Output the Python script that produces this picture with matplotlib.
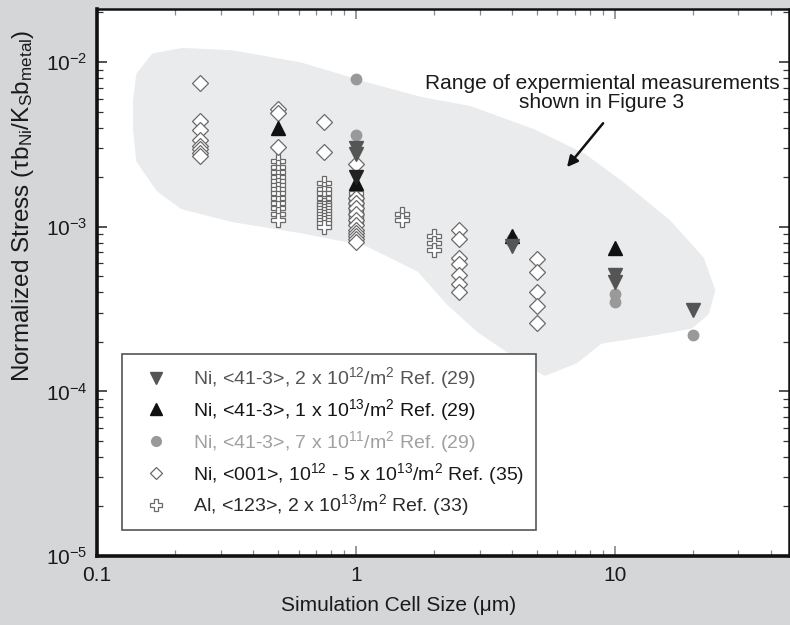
import numpy as np
import matplotlib
matplotlib.use('Agg')
import matplotlib.pyplot as plt
from matplotlib.lines import Line2D

plt.rcParams['font.family'] = ['Liberation Sans', 'DejaVu Sans']
plt.rcParams['mathtext.fontset'] = 'custom'
plt.rcParams['mathtext.rm'] = 'Liberation Sans'
plt.rcParams['mathtext.it'] = 'Liberation Sans:italic'
plt.rcParams['mathtext.default'] = 'regular'

# Ni <41-3>, 2e12/m2 (down triangles)
ni_2e12_x = [1, 1, 4, 10, 10, 20]
ni_2e12_y = [3.0e-3, 2.75e-3, 7.6e-4, 5.1e-4, 4.6e-4, 3.1e-4]
ni_2e12_x2 = [1]
ni_2e12_y2 = [2.0e-3]

# Ni <41-3>, 1e13/m2 (up triangles)
ni_1e13_x = [0.5, 1, 4, 10]
ni_1e13_y = [4.0e-3, 1.85e-3, 8.8e-4, 7.4e-4]

# Ni <41-3>, 7e11/m2 (circles)
ni_7e11_x = [1, 1, 4, 4, 10, 10, 20]
ni_7e11_y = [7.9e-3, 3.6e-3, 8.4e-4, 8.1e-4, 3.9e-4, 3.5e-4, 2.2e-4]

# Ni <001> (open diamonds)
ni_001_x = [0.25] * 8 + [0.5] * 3 + [0.75] * 2 + [1] * 12 + [2.5] * 7 + [5] * 5
ni_001_y = [7.5e-3, 4.4e-3, 3.85e-3, 3.35e-3, 3.1e-3, 2.95e-3, 2.82e-3, 2.7e-3,
            5.2e-3, 4.9e-3, 3.05e-3,
            4.3e-3, 2.85e-3,
            2.4e-3, 1.5e-3, 1.4e-3, 1.3e-3, 1.2e-3, 1.1e-3, 1.02e-3, 9.6e-4,
            9.2e-4, 8.8e-4, 8.4e-4, 8.1e-4,
            9.6e-4, 8.4e-4, 6.5e-4, 5.9e-4, 5.1e-4, 4.5e-4, 4.0e-4,
            6.4e-4, 5.3e-4, 4.0e-4, 3.3e-4, 2.6e-4]

# Al <123> (open crosses)
al_123_x = [0.5] * 13 + [0.75] * 13 + [1] * 8 + [1.5] * 2 + [2] * 3
al_123_y = [2.5e-3, 2.3e-3, 2.15e-3, 2.0e-3, 1.9e-3, 1.8e-3, 1.7e-3, 1.6e-3,
            1.5e-3, 1.4e-3, 1.3e-3, 1.2e-3, 1.1e-3,
            1.85e-3, 1.7e-3, 1.6e-3, 1.5e-3, 1.4e-3, 1.35e-3, 1.3e-3, 1.25e-3,
            1.2e-3, 1.15e-3, 1.1e-3, 1.05e-3, 1.0e-3,
            1.6e-3, 1.5e-3, 1.4e-3, 1.33e-3, 1.26e-3, 1.2e-3, 1.14e-3, 1.08e-3,
            1.2e-3, 1.1e-3,
            8.8e-4, 8.0e-4, 7.2e-4]

# outline of the experimental range (gray region)
blob_x = [0.143, 0.147, 0.167, 0.215, 0.335, 0.608, 1.10, 1.77, 2.75, 4.82, 7.5,
          10.5, 15.9, 21.3, 23.5, 22.3, 19.5, 13.7, 8.75, 7.0, 5.37, 4.4, 3.01,
          2.31, 1.77, 1.10, 0.608, 0.335, 0.215, 0.175, 0.147, 0.143]
blob_y = [5.86e-3, 8.3e-3, 1.07e-2, 1.15e-2, 1.11e-2, 9.4e-3, 7.1e-3, 5.8e-3,
          5.1e-3, 3.7e-3, 2.64e-3, 1.79e-3, 1.05e-3, 6.3e-4, 4.1e-4, 3.04e-4,
          2.54e-4, 2.3e-4, 2.06e-4, 1.56e-4, 1.32e-4, 1.6e-4, 2.4e-4,
          3.5e-4, 5.6e-4, 8.1e-4, 9.7e-4, 1.13e-3, 1.35e-3, 1.71e-3, 2.54e-3, 3.86e-3]

labels = [r'Ni, <41-3>, 2 x 10$^{12}$/m$^2$ Ref. (29)',
          r'Ni, <41-3>, 1 x 10$^{13}$/m$^2$ Ref. (29)',
          r'Ni, <41-3>, 7 x 10$^{11}$/m$^2$ Ref. (29)',
          r'Ni, <001>, 10$^{12}$ - 5 x 10$^{13}$/m$^2$ Ref. (35)',
          r'Al, <123>, 2 x 10$^{13}$/m$^2$ Ref. (33)']
label_colors = ['#555555', '#151515', '#a0a0a0', '#1a1a1a', '#2a2a2a']

fig = plt.figure(figsize=(7.9, 6.25), dpi=100, facecolor='#d5d6d8')
ax = fig.add_axes([0.1228, 0.1104, 0.8759, 0.8752])
ax.set_xscale('log')
ax.set_yscale('log')
ax.set_xlim(0.1, 47)
ax.set_ylim(1e-5, 2.1e-2)

ax.fill(blob_x, blob_y, color='#eaebec', ec='#eaebec', lw=6, joinstyle='round', zorder=1)

ax.plot(al_123_x, al_123_y, 'P', ms=9.5, mfc='white', mec='#6a6a6a', mew=0.9, ls='none', zorder=3)
ax.plot(ni_001_x, ni_001_y, 'D', ms=8, mfc='white', mec='#6a6a6a', mew=0.9, ls='none', zorder=4)
ax.plot(ni_7e11_x, ni_7e11_y, 'o', ms=7.5, color='#999999', ls='none', zorder=5)
ax.plot(ni_1e13_x, ni_1e13_y, '^', ms=9.5, color='#111111', ls='none', zorder=6)
ax.plot(ni_2e12_x, ni_2e12_y, 'v', ms=9.5, color='#555555', ls='none', zorder=6)
ax.plot(ni_2e12_x2, ni_2e12_y2, 'v', ms=9.5, color='#222222', ls='none', zorder=6)

handles = [Line2D([], [], marker='v', ms=9, color='#555555', ls='none'),
           Line2D([], [], marker='^', ms=9, color='#111111', ls='none'),
           Line2D([], [], marker='o', ms=7, color='#999999', ls='none'),
           Line2D([], [], marker='D', ms=6.5, mfc='white', mec='#6a6a6a', mew=0.9, ls='none'),
           Line2D([], [], marker='P', ms=8.5, mfc='white', mec='#6a6a6a', mew=0.9, ls='none')]
leg = ax.legend(handles, labels, loc='lower left', bbox_to_anchor=(0.036, 0.0475),
                fontsize=14, frameon=True, fancybox=False, edgecolor='#555555',
                framealpha=1, borderpad=0.6, labelspacing=0.3, handletextpad=0.75,
                borderaxespad=0, handlelength=2.3)
leg.get_frame().set_linewidth(1.2)
for t, c in zip(leg.get_texts(), label_colors):
    t.set_color(c)

ax.text(8.9, 6.5e-3, 'Range of expermiental measurements\nshown in Figure 3',
        ha='center', va='center', fontsize=15, color='#1a1a1a', linespacing=1.0)
ax.annotate('', xy=(6.53, 2.30e-3), xytext=(9.0, 4.25e-3),
            arrowprops=dict(arrowstyle='-|>', color='#111111', lw=1.8,
                            mutation_scale=16, shrinkA=0, shrinkB=0))

ax.set_xticks([0.1, 1, 10])
ax.set_xticklabels(['0.1', '1', '10'])
ax.tick_params(which='both', direction='in', top=True, right=True, labelsize=15)
ax.tick_params(which='major', length=7, width=1.2, pad=7)
ax.tick_params(which='minor', length=4, width=0.9)
ax.tick_params(axis='y', which='both', colors='#333333', labelcolor='#1a1a1a')
ax.tick_params(axis='x', which='both', colors='#888888', labelcolor='#1a1a1a')

for side, lw in [('left', 2.6), ('bottom', 2.6), ('top', 1.8), ('right', 1.8)]:
    ax.spines[side].set_linewidth(lw)
    ax.spines[side].set_color('#111111')

ax.set_xlabel('Simulation Cell Size (\u03bcm)', fontsize=15, color='#1a1a1a', labelpad=8)
ax.xaxis.set_label_coords(0.436, -0.073)
ax.set_ylabel(r'Normalized Stress ($\tau$b$_{Ni}$/K$_S$b$_{metal}$)', fontsize=17.5,
              color='#1a1a1a')
ax.yaxis.set_label_coords(-0.088, 0.64)

fig.savefig('out.png', dpi=100, facecolor=fig.get_facecolor())
